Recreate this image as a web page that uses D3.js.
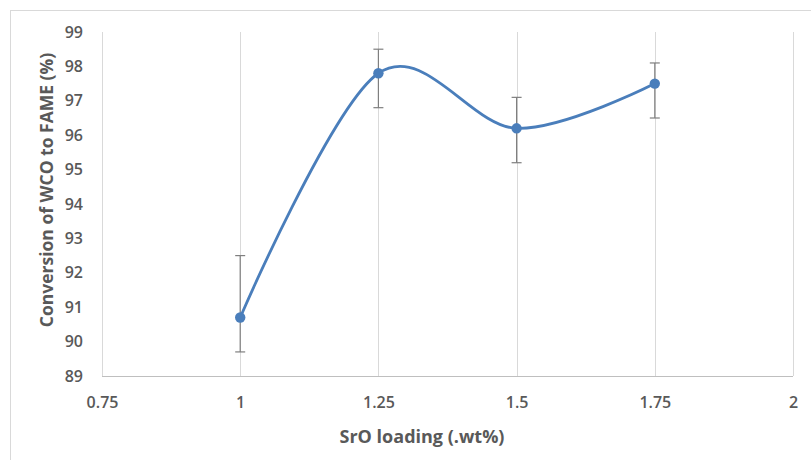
<!DOCTYPE html>
<html>
<head>
<meta charset="utf-8">
<script src="https://cdn.jsdelivr.net/npm/d3@7"></script>
<style>
  body { margin: 0; background: #fff; }
  text { font-family: "Open Sans", "Noto Sans", sans-serif; }
</style>
</head>
<body>
<div id="chart"></div>
<script>
// values
var loading = [1, 1.25, 1.5, 1.75],
    conversion = [90.7, 97.8, 96.2, 97.5],
    errLow = [89.7, 96.8, 95.2, 96.5],
    errHigh = [92.5, 98.5, 97.1, 98.1],
    xTicks = [0.75, 1, 1.25, 1.5, 1.75, 2],
    yTicks = [89, 90, 91, 92, 93, 94, 95, 96, 97, 98, 99]

var width = 811, height = 460,
    margins = { top: 32, right: 18, bottom: 84, left: 102 },
    w = width - margins.left - margins.right,
    h = height - margins.top - margins.bottom

var svg = d3.select("#chart").append("svg")
    .attr("width", width)
    .attr("height", height)

// chart area border (only top/left visible in the picture)
svg.append("rect")
    .attr("x", 10.5).attr("y", 10.5)
    .attr("width", 840).attr("height", 500)
    .attr("fill", "none").attr("stroke", "#d9d9d9")

var graph = svg.append("g")
    .attr("transform", "translate(" + margins.left + "," + margins.top + ")")

var x = d3.scaleLinear().domain([0.75, 2]).range([0, w]),
    y = d3.scaleLinear().domain([89, 99]).range([h, 0])

// vertical gridlines
graph.append("g").selectAll("line")
    .data(xTicks)
    .join("line")
    .attr("x1", d => Math.round(x(d)) + 0.5).attr("x2", d => Math.round(x(d)) + 0.5)
    .attr("y1", 0).attr("y2", h)
    .attr("stroke", "#d9d9d9").attr("stroke-width", 1)

// x axis
var xAxis = graph.append("g")
    .attr("transform", "translate(0," + h + ")")
    .call(d3.axisBottom(x).tickValues(xTicks).tickFormat(d => String(d)).tickSize(0).tickPadding(21))
xAxis.select(".domain").attr("stroke", "#bfbfbf").attr("d", "M0,0.5H" + w)
xAxis.selectAll("text").attr("fill", "#595959").attr("font-size", 16).attr("font-weight", 600)

// y axis
var yAxis = graph.append("g")
    .call(d3.axisLeft(y).tickValues(yTicks).tickFormat(d3.format("d")).tickSize(0).tickPadding(19))
yAxis.select(".domain").remove()
yAxis.selectAll("text").attr("fill", "#595959").attr("font-size", 16).attr("font-weight", 600)

// error bars
var points = loading.map((d, i) => ({ x: d, y: conversion[i], lo: errLow[i], hi: errHigh[i] }))
var bars = graph.append("g").attr("stroke", "#7f7f7f").attr("stroke-width", 1.2)
bars.selectAll(".stem").data(points).join("line")
    .attr("x1", d => x(d.x)).attr("x2", d => x(d.x))
    .attr("y1", d => y(d.lo)).attr("y2", d => y(d.hi))
bars.selectAll(".capHi").data(points).join("line")
    .attr("x1", d => x(d.x) - 5).attr("x2", d => x(d.x) + 5)
    .attr("y1", d => y(d.hi)).attr("y2", d => y(d.hi))
bars.selectAll(".capLo").data(points).join("line")
    .attr("x1", d => x(d.x) - 5).attr("x2", d => x(d.x) + 5)
    .attr("y1", d => y(d.lo)).attr("y2", d => y(d.lo))

// smoothed line
var line = d3.line().x(d => x(d.x)).y(d => y(d.y)).curve(d3.curveCardinal.tension(0))
graph.append("path")
    .attr("d", line(points))
    .attr("fill", "none").attr("stroke", "#4a7ebb").attr("stroke-width", 2.8)

graph.append("g").selectAll("circle")
    .data(points)
    .join("circle")
    .attr("cx", d => x(d.x)).attr("cy", d => y(d.y))
    .attr("r", 5.2).attr("fill", "#4a7ebb")

// axis titles
svg.append("text")
    .attr("x", 422).attr("y", 443)
    .attr("text-anchor", "middle")
    .attr("fill", "#595959").attr("font-size", 18).attr("font-weight", 700)
    .text("SrO loading (.wt%)")

svg.append("text")
    .attr("transform", "translate(53,190) rotate(-90)")
    .attr("text-anchor", "middle")
    .attr("fill", "#595959").attr("font-size", 17.5).attr("font-weight", 700)
    .text("Conversion of WCO to FAME (%)")
</script>
</body>
</html>
